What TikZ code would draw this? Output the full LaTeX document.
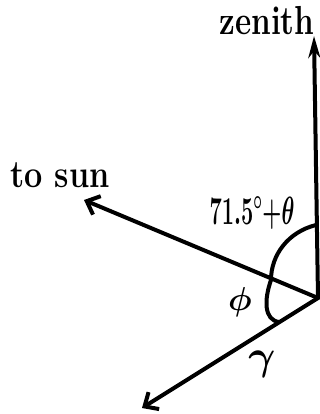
\documentclass[tikz,border=0pt]{standalone}
\usepackage{amsmath,amssymb,bm}
\usepackage{fontspec}
\usetikzlibrary{arrows.meta}
\begin{document}
\begin{tikzpicture}[x=1pt,y=-1pt,
  ray/.style={line width=4pt,line cap=round},
  openhead/.style={-{Straight Barb[length=11pt,width=20pt,line width=4pt]}},
  filledhead/.style={-{Stealth[length=22pt,width=12pt]}},
  arcline/.style={line width=4pt},
  lbl/.style={font=\fontsize{30}{34}\selectfont\bfseries,inner sep=0pt},
  mlbl/.style={font=\fontsize{20}{24}\selectfont\bfseries\boldmath,inner sep=0pt}]
\useasboundingbox (0,0) rectangle (320,414);
\coordinate (O) at (318,298);
\coordinate (Z) at (314,36);
\coordinate (S) at (84,200);
\coordinate (G) at (142,408);
\draw[ray,filledhead] (O) -- (Z);
\draw[ray,openhead] (O) -- (S);
\draw[ray,openhead] (O) -- (G);
\coordinate (a1) at (316,225);
\coordinate (a2) at (271,280);
\coordinate (b2) at (279,322);
\draw[arcline] (a1) .. controls (288,232) and (271,255) .. (a2);
\draw[arcline] (a2) .. controls (264,300) and (264,320) .. (b2);
\node[lbl] (zen) at (267,21) {\scalebox{1.05}[1.35]{\bfseries zenith}};
\node[lbl] (sun) at (60,175) {\scalebox{1.08}[1.3]{\bfseries to sun}};
\node[mlbl] (ang) at (252,213) {\scalebox{1.05}[1.9]{$\bm{71.5^\circ{+}\theta}$}};
\node[mlbl] (phi) at (240,302) {\scalebox{1.6}{$\bm{\phi}$}};
\node[mlbl] (gam) at (262,364) {\scalebox{2}{$\bm{\gamma}$}};
\end{tikzpicture}
\end{document}
